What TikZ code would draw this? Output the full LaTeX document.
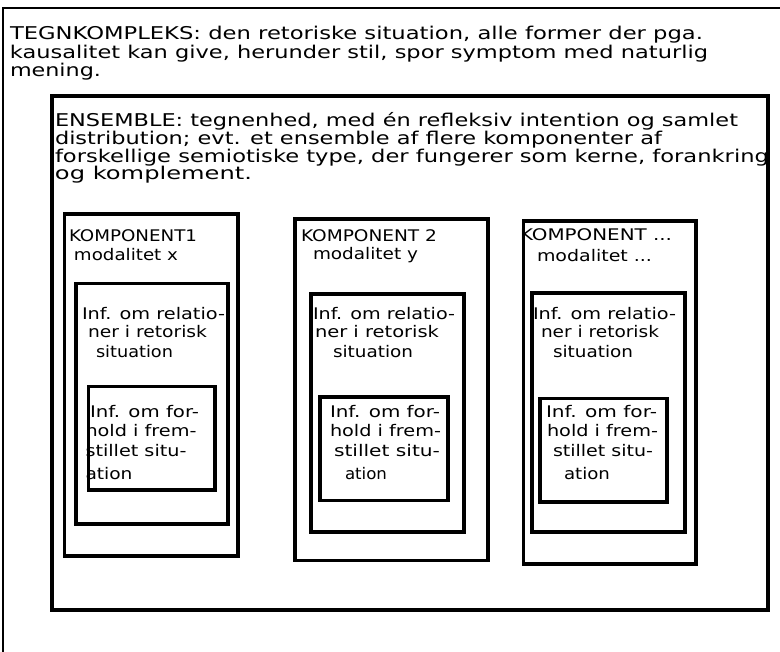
\documentclass[tikz,border=0pt]{standalone}
\usepackage{fontspec}
\setmainfont{DejaVu Sans}
\usepackage{graphicx}
\newlength\fitlen
\newcommand\fitw[2]{\settowidth{\fitlen}{#2}\pgfmathsetmacro\fitr{#1/\fitlen}\scalebox{\fitr}[1]{#2}}
\tikzset{
  frame/.style={draw=black, line width=3.6pt, rectangle, inner sep=0pt, outer sep=0pt, anchor=north west},
  txt/.style={anchor=base west, inner sep=0pt, outer sep=0pt},
  bigtxt/.style={txt, font=\fontsize{17.6}{20}\selectfont},
  comptxt/.style={txt, font=\fontsize{16}{18}\selectfont},
}
\begin{document}
\begin{tikzpicture}[x=1pt,y=-1pt]
\useasboundingbox (0,0) rectangle (780,652);
\fill[white] (0,0) rectangle (780,652);
\clip (0,0) rectangle (780,652);

% outer frame (extends beyond the picture to the right and bottom)
\node[frame, line width=2.6pt, minimum width=820pt, minimum height=700pt] (outer) at (3,8) {};

% main text
\node[bigtxt] (m1) at (10,40) {\fitw{693}{TEGNKOMPLEKS: den retoriske situation, alle former der pga.}};
\node[bigtxt] (m2) at (10,58.5) {\fitw{698}{kausalitet kan give, herunder stil, spor symptom med naturlig}};
\node[bigtxt] (m3) at (10,76.5) {\fitw{91}{mening.}};

% ensemble text
\node[bigtxt] (e1) at (55,127) {\fitw{683}{ENSEMBLE: tegnenhed, med én refleksiv intention og samlet}};
\node[bigtxt] (e2) at (55,145) {\fitw{607}{distribution; evt. et ensemble af flere komponenter af}};
\node[bigtxt] (e3) at (55,162.5) {\fitw{714}{forskellige semiotiske type, der fungerer som kerne, forankring}};
\node[bigtxt] (e4) at (55,180) {\fitw{197}{og komplement.}};

% component 1 text
\node[comptxt] (k1a) at (69,242) {\fitw{128}{KOMPONENT1}};
\node[comptxt] (k1b) at (74,261) {\fitw{104}{modalitet x}};
\node[comptxt] (r1a) at (82,320) {\fitw{143}{Inf. om relatio-}};
\node[comptxt] (r1b) at (88,338) {\fitw{119}{ner i retorisk}};
\node[comptxt] (r1c) at (96,358) {\fitw{77}{situation}};
\node[comptxt] (f1a) at (90,418) {\fitw{109}{Inf. om for-}};
\node[comptxt] (f1b) at (85.5,437) {\fitw{111}{hold i frem-}};
\node[comptxt] (f1c) at (85.5,457) {\fitw{101}{stillet situ-}};
\node[comptxt] (f1d) at (85.5,480) {\fitw{47}{ation}};

% component 2 text
\node[comptxt] (k2a) at (301,242) {\fitw{136}{KOMPONENT 2}};
\node[comptxt] (k2b) at (313,260) {\fitw{105}{modalitet y}};
\node[comptxt] (r2a) at (313,320) {\fitw{142}{Inf. om relatio-}};
\node[comptxt] (r2b) at (315,338) {\fitw{124}{ner i retorisk}};
\node[comptxt] (r2c) at (333,358) {\fitw{80}{situation}};
\node[comptxt] (f2a) at (330,418) {\fitw{110}{Inf. om for-}};
\node[comptxt] (f2b) at (330,437) {\fitw{111}{hold i frem-}};
\node[comptxt] (f2c) at (334,457) {\fitw{106}{stillet situ-}};
\node[comptxt] (f2d) at (345,479) {\fitw{42}{ation}};

% component 3 text
\node[comptxt] (k3a) at (520,241) {\fitw{152}{KOMPONENT ...}};
\node[comptxt] (k3b) at (537,262) {\fitw{115}{modalitet ...}};
\node[comptxt] (r3a) at (533,320) {\fitw{143}{Inf. om relatio-}};
\node[comptxt] (r3b) at (541,338) {\fitw{118}{ner i retorisk}};
\node[comptxt] (r3c) at (553,358) {\fitw{80}{situation}};
\node[comptxt] (f3a) at (546,418) {\fitw{111}{Inf. om for-}};
\node[comptxt] (f3b) at (547,437) {\fitw{111}{hold i frem-}};
\node[comptxt] (f3c) at (553,457) {\fitw{100}{stillet situ-}};
\node[comptxt] (f3d) at (564,480) {\fitw{46}{ation}};

% ensemble box
\node[frame, line width=4pt, minimum width=715.5pt, minimum height=513pt] (ens) at (52,96.5) {};

% component 1 boxes
\node[frame, minimum width=173.5pt, minimum height=342pt] (comp1) at (64.5,214) {};
\node[frame, minimum width=152pt, minimum height=240.5pt] (rel1) at (76,283.5) {};
\node[frame, minimum width=126.5pt, minimum height=103.5pt] (frm1) at (88.5,386.5) {};

% component 2 boxes
\node[frame, minimum width=193pt, minimum height=341.5pt] (comp2) at (295,219) {};
\node[frame, minimum width=153pt, minimum height=238pt] (rel2) at (311,294) {};
\node[frame, minimum width=128pt, minimum height=103.5pt] (frm2) at (320,397) {};

% component 3 boxes
\node[frame, minimum width=172.5pt, minimum height=343pt] (comp3) at (523.5,221) {};
\node[frame, minimum width=153pt, minimum height=239pt] (rel3) at (532,293) {};
\node[frame, minimum width=127pt, minimum height=103.5pt] (frm3) at (540,398.5) {};
\end{tikzpicture}
\end{document}
